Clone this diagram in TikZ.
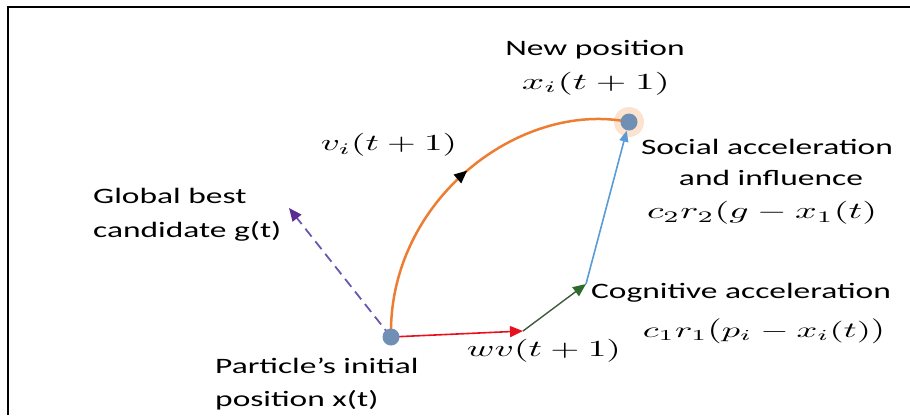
\documentclass[tikz,border=0pt]{standalone}
\usepackage[no-math]{fontspec}
\setmainfont{Carlito}[FakeStretch=1.52]
\usepackage{graphicx}
\usetikzlibrary{arrows.meta,decorations.markings}
\definecolor{orng}{HTML}{ED7D31}
\definecolor{glow}{HTML}{FBE3CF}
\definecolor{dotblue}{HTML}{6F8FB5}
\definecolor{arrred}{HTML}{E8101E}
\definecolor{arrgreen}{HTML}{3E5A3A}
\definecolor{arrgreenhead}{HTML}{2F6B2A}
\definecolor{arrblue}{HTML}{5B9BD5}
\definecolor{arrpurple}{HTML}{6A58B0}
\definecolor{headpurple}{HTML}{5A2D91}
\newcommand{\mth}[3]{\resizebox*{#1pt}{#2pt}{$#3$}}
\newcommand{\tallp}[1]{\mathopen{\scalebox{1}[1.15]{$#1$}}}
\newcommand{\tallq}[1]{\mathclose{\scalebox{1}[1.15]{$#1$}}}
\tikzset{
  lbl/.style={inner sep=0pt, font=\fontsize{22}{31}\selectfont},
  mlbl/.style={inner sep=0pt, anchor=center},
  dotnode/.style={circle, fill=dotblue, minimum size=17pt, inner sep=0pt},
}
\begin{document}
\begin{tikzpicture}[x=1pt,y=-1pt]
\useasboundingbox (0,0) rectangle (910,415);
% frame
\draw[line width=2.8pt, line join=miter] (910,7) -- (8,7) -- (8,415);

% points
\coordinate (A) at (391,337);
\coordinate (B) at (629,122);
\coordinate (R) at (523,331);
\coordinate (G) at (586,284);
\coordinate (P) at (289,208);

% glow around new position
\fill[glow] (B) circle (15pt);

% orange curve
\draw[orng, line width=2.5pt,
  postaction={decorate, decoration={markings,
    mark=at position 0.52 with {\arrow[black]{Triangle[length=13pt,width=11pt]}}}}]
  (A) .. controls (388,200) and (520,100) .. (B);

% purple dashed
\draw[arrpurple, line width=1.8pt, dash pattern=on 10pt off 6pt,
  -{Triangle[length=13pt,width=11pt,color=headpurple]}] (A) -- (P);
% red
\draw[arrred, line width=1.6pt, -{Triangle[length=13pt,width=11pt]}] (A) -- (R);
% green
\draw[arrgreen, line width=1.4pt, -{Triangle[length=13pt,width=11pt,color=arrgreenhead]}] (R) -- (G);
% blue
\draw[arrblue, line width=1.6pt, -{Triangle[length=11pt,width=9pt]}, shorten >=9pt] (G) -- (B);

\node[dotnode] (dA) at (A) {};
\node[dotnode] (dB) at (B) {};

% labels
\node[lbl, anchor=base] (tnew) at (595,55) {New position};
\node[mlbl] (mxi) at (596,83.5) {\mth{148}{23}{x_i(t+1)}};
\node[mlbl] (mvi) at (389,145) {\mth{136}{23}{v_i(t+1)}};
\node[lbl, anchor=base west] (tglob1) at (93,203) {Global best};
\node[lbl, anchor=base west] (tglob2) at (93,237) {candidate g(t)};
\node[lbl, anchor=base] (tsoc1) at (767,154) {Social acceleration};
\node[lbl, anchor=base] (tsoc2) at (771,185) {and influence};
\node[mlbl] (msoc) at (762,213) {\mth{230}{23}{c_2r_2(g-x_1(t)}};
\node[lbl, anchor=base] (tcog) at (741,298) {Cognitive acceleration};
\node[mlbl] (mcog) at (764,331) {\mth{242}{25}{c_1r_1\tallp{(}p_i-x_i(t)\tallq{)}}};
\node[mlbl] (mwv) at (544,351) {\mth{154}{23}{wv(t+1)}};
\node[lbl, anchor=base west] (tpart1) at (215,373) {Particle's initial};
\node[lbl, anchor=base west] (tpart2) at (215,406) {position x(t)};
\end{tikzpicture}
\end{document}
